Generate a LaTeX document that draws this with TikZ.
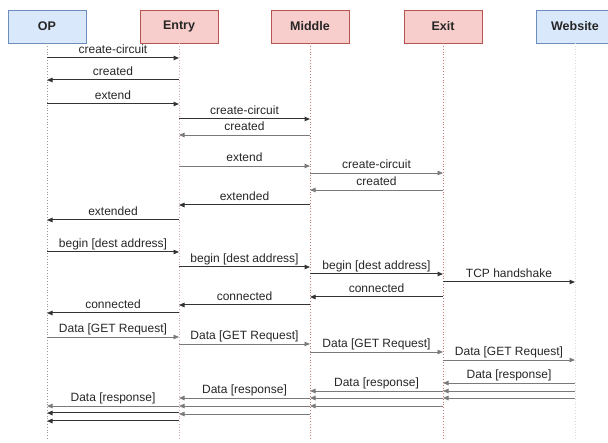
\documentclass[tikz,border=0pt]{standalone}
\usepackage{fontspec}
\setmainfont{Liberation Sans}
\usetikzlibrary{arrows.meta}
\definecolor{bluefill}{HTML}{DAE8FC}
\definecolor{blueline}{HTML}{6C8EBF}
\definecolor{redfill}{HTML}{F8CECC}
\definecolor{redline}{HTML}{B85450}
\definecolor{msgdark}{HTML}{333333}
\definecolor{msglight}{HTML}{7A7A7A}
% message from one lifeline to another at height #4
\newcommand{\msg}[5][]{%
  \draw[msgline,#1] (#2 |- 0,#4) -- node[msglabel] {#5} (#3 |- 0,#4);}
\newcommand{\bare}[4][]{%
  \draw[msgline,#1] (#2 |- 0,#4) -- (#3 |- 0,#4);}

\begin{document}
\begin{tikzpicture}[x=1pt,y=-1pt,
    actor/.style={draw,rectangle,minimum width=78pt,minimum height=33pt,
      font=\bfseries\fontsize{12.5}{15}\selectfont,text=black!85},
    tor/.style={actor,fill=redfill,draw=redline},
    client/.style={actor,fill=bluefill,draw=blueline},
    lifeline/.style={dotted,line width=0.8pt},
    msgline/.style={msgdark,line width=1pt,-{Triangle[length=5.5pt,width=4.5pt]}},
    faint/.style={msglight,line width=0.8pt},
    msglabel/.style={anchor=base,yshift=4pt,inner sep=0pt,text=black!85,
      font=\fontsize{12}{14}\selectfont}]
  \useasboundingbox (0,0) rectangle (608,443);

  %participants
  \node[client] (op) at (47,26.5) {OP};
  \node[tor] (entry) at (179,26.5) {Entry};
  \node[tor] (middle) at (310,26.5) {Middle};
  \node[tor] (exit) at (443,26.5) {Exit};
  \node[client] (website) at (575,26.5) {Website};

  %lifelines
  \draw[lifeline,gray!80] (op.south) -- (op |- 0,440);
  \draw[lifeline,redline!50] (entry.south) -- (entry |- 0,440);
  \draw[lifeline,redline!80] (middle.south) -- (middle |- 0,440);
  \draw[lifeline,redline!80] (exit.south) -- (exit |- 0,440);
  \draw[lifeline,gray!30] (website.south) -- (website |- 0,440);

  %circuit setup
  \msg{op}{entry}{58}{create-circuit}
  \msg{entry}{op}{80}{created}
  \msg{op}{entry}{104}{extend}
  \msg{entry}{middle}{119}{create-circuit}
  \msg[faint]{middle}{entry}{135}{created}
  \msg[faint]{entry}{middle}{166}{extend}
  \msg[faint]{middle}{exit}{173}{create-circuit}
  \msg[faint]{exit}{middle}{190}{created}
  \msg{middle}{entry}{205}{extended}
  \msg{entry}{op}{220}{extended}

  %stream to the destination
  \msg{op}{entry}{252}{begin [dest address]}
  \msg{entry}{middle}{267}{begin [dest address]}
  \msg{middle}{exit}{274}{begin [dest address]}
  \msg{exit}{website}{282}{TCP handshake}
  \msg{exit}{middle}{297}{connected}
  \msg{middle}{entry}{305}{connected}
  \msg{entry}{op}{313}{connected}

  %request
  \msg[faint]{op}{entry}{337}{Data [GET Request]}
  \msg[faint]{entry}{middle}{344}{Data [GET Request]}
  \msg[faint]{middle}{exit}{352}{Data [GET Request]}
  \msg[faint]{exit}{website}{360}{Data [GET Request]}

  %response cells
  \msg[faint]{website}{exit}{383}{Data [response]}
  \foreach \y in {391,398} \bare[faint]{website}{exit}{\y};
  \msg[faint]{exit}{middle}{391}{Data [response]}
  \foreach \y in {398,406} \bare[faint]{exit}{middle}{\y};
  \msg[faint]{middle}{entry}{398}{Data [response]}
  \foreach \y in {406,414} \bare[faint]{middle}{entry}{\y};
  \msg[faint]{entry}{op}{406}{Data [response]}
  \foreach \y in {413,421} \bare{entry}{op}{\y};
\end{tikzpicture}
\end{document}
